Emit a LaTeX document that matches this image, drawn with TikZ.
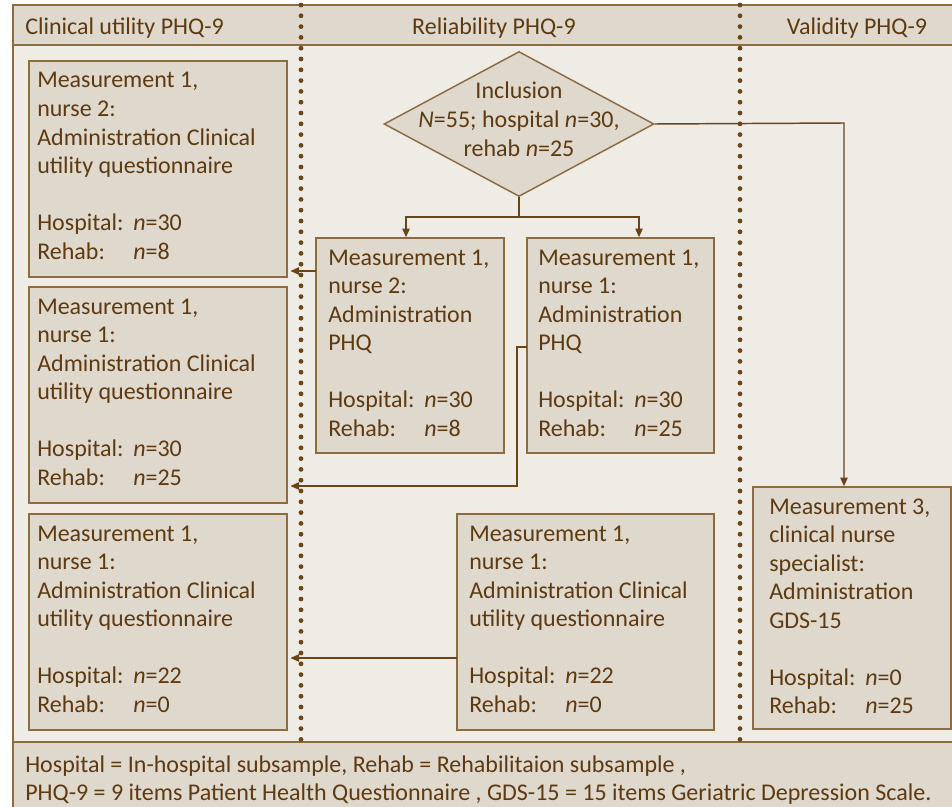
\documentclass[tikz,border=0pt]{standalone}
\usepackage{fontspec}
\setmainfont{Carlito}
\usetikzlibrary{arrows.meta,shapes.geometric,fit}
\definecolor{txt}{HTML}{5E3A10}
\definecolor{conn}{HTML}{6A4518}
\definecolor{boxline}{HTML}{8E6C42}
\definecolor{boxfill}{HTML}{DFD8CD}
\definecolor{hdrfill}{HTML}{DFD8CD}
\definecolor{bodyfill}{HTML}{EFEBE5}
\newcommand\fsz{\fontsize{18}{21.4}\selectfont}
\newcommand\lab[1]{\makebox[72pt][l]{#1}}
\newcommand\blk[1]{\parbox[t]{260pt}{\raggedright\fsz #1}}
\begin{document}
\begin{tikzpicture}[x=0.75pt,y=-0.75pt,
  mbox/.style={draw=boxline, fill=boxfill, line width=1.1pt, inner sep=0pt},
  btxt/.style={anchor=base west, inner sep=0pt, text=txt},
  htxt/.style={anchor=base, inner sep=0pt, text=txt, font=\fsz},
  arr/.style={draw=conn, line width=1.1pt, -{Triangle[length=6.5pt,width=5.5pt]}},
  ln/.style={draw=conn, line width=1.1pt},
  dotline/.style={draw=conn, line width=3.6pt, line cap=round, dash pattern=on 0pt off 8.1pt},
  frame/.style={draw=boxline, line width=1.1pt}]
\useasboundingbox (0,0) rectangle (952,806);
\clip (0,0) rectangle (952,806);
% background bands
\fill[bodyfill] (13,45) rectangle (970,742);
\fill[hdrfill] (13,5) rectangle (970,45);
\fill[hdrfill] (13,742) rectangle (970,820);
\draw[frame] (970,5) -- (13,5) -- (13,820);
\draw[frame] (13,45) -- (970,45);
\draw[frame] (13,742) -- (970,742);
% headers
\node[btxt, font=\fsz] (h1) at (25,35) {Clinical utility PHQ-9};
\node[htxt] (h2) at (494,35) {Reliability PHQ-9};
\node[htxt] (h3) at (857,35) {Validity PHQ-9};
% dotted separators
\draw[dotline] (301,5) -- (301,740);
\draw[dotline] (740,5) -- (740,740);
% left column boxes
\node[mbox, fit={(29,61) (287,277)}] (L1) {};
\node[btxt] (L1t) at (37,88) {\blk{Measurement 1,\\ nurse 2:\\ Administration Clinical\\ utility questionnaire\\[21.4pt] \lab{Hospital:}\textit{n}=30\\ \lab{Rehab:}\textit{n}=8}};
\node[mbox, fit={(29,287) (287,503)}] (L2) {};
\node[btxt] (L2t) at (37,314) {\blk{Measurement 1,\\ nurse 1:\\ Administration Clinical\\ utility questionnaire\\[21.4pt] \lab{Hospital:}\textit{n}=30\\ \lab{Rehab:}\textit{n}=25}};
\node[mbox, fit={(29,514) (287,730)}] (L3) {};
\node[btxt] (L3t) at (37,541) {\blk{Measurement 1,\\ nurse 1:\\ Administration Clinical\\ utility questionnaire\\[21.4pt] \lab{Hospital:}\textit{n}=22\\ \lab{Rehab:}\textit{n}=0}};
% diamond
\node[diamond, draw=boxline, fill=boxfill, line width=1.1pt, inner sep=0pt,
      minimum width=202.5pt, minimum height=108.75pt] (incl) at (519,124) {};
\node[htxt] (inclt) at (519,99) {\parbox[t]{200pt}{\centering\fsz Inclusion\\ \textit{N}=55; hospital \textit{n}=30,\\ rehab \textit{n}=25}};
% middle boxes
\node[mbox, fit={(316,238) (504,453)}] (A) {};
\node[btxt] (At) at (328,265) {\blk{Measurement 1,\\ nurse 2:\\ Administration\\ PHQ\\[21.4pt] \lab{Hospital:}\textit{n}=30\\ \lab{Rehab:}\textit{n}=8}};
\node[mbox, fit={(527,238) (714,453)}] (B) {};
\node[btxt] (Bt) at (538,265) {\blk{Measurement 1,\\ nurse 1:\\ Administration\\ PHQ\\[21.4pt] \lab{Hospital:}\textit{n}=30\\ \lab{Rehab:}\textit{n}=25}};
\node[mbox, fit={(457,514) (714,730)}] (D) {};
\node[btxt] (Dt) at (469,541) {\blk{Measurement 1,\\ nurse 1:\\ Administration Clinical\\ utility questionnaire\\[21.4pt] \lab{Hospital:}\textit{n}=22\\ \lab{Rehab:}\textit{n}=0}};
% right box
\node[mbox, fit={(753,487) (951,729)}] (C) {};
\node[btxt] (Ct) at (769,514) {\blk{Measurement 3,\\ clinical nurse\\ specialist:\\ Administration\\ GDS-15\\[21.4pt] \lab{Hospital:}\textit{n}=0\\ \lab{Rehab:}\textit{n}=25}};
% footer
\node[btxt] (foot) at (25,772) {\parbox[t]{900pt}{\fsz Hospital = In-hospital subsample, Rehab = Rehabilitaion subsample ,\\ PHQ-9 = 9 items Patient Health Questionnaire , GDS-15 = 15 items Geriatric Depression Scale.}};
% connectors
\coordinate (j) at (519,217);
\coordinate (ja) at (406,217);
\coordinate (jb) at (639,217);
\draw[ln] (incl.south) -- (j);
\draw[arr] (j) -- (ja) -- (ja |- A.north);
\draw[arr] (j) -- (jb) -- (jb |- B.north);
\coordinate (a1) at (316,271);
\draw[arr, shorten >=2pt] (a1) -- (a1 -| L1.east);
\coordinate (b1) at (527,347);
\coordinate (b2) at (517,347);
\coordinate (b3) at (517,486);
\draw[arr, shorten >=2pt] (b1) -- (b2) -- (b3) -- (b3 -| L2.east);
\coordinate (c1) at (844,123);
\draw[arr] (incl.east) -- (c1) -- (c1 |- C.north);
\coordinate (d1) at (457,658);
\draw[arr, shorten >=2pt] (d1) -- (d1 -| L3.east);
\end{tikzpicture}
\end{document}
